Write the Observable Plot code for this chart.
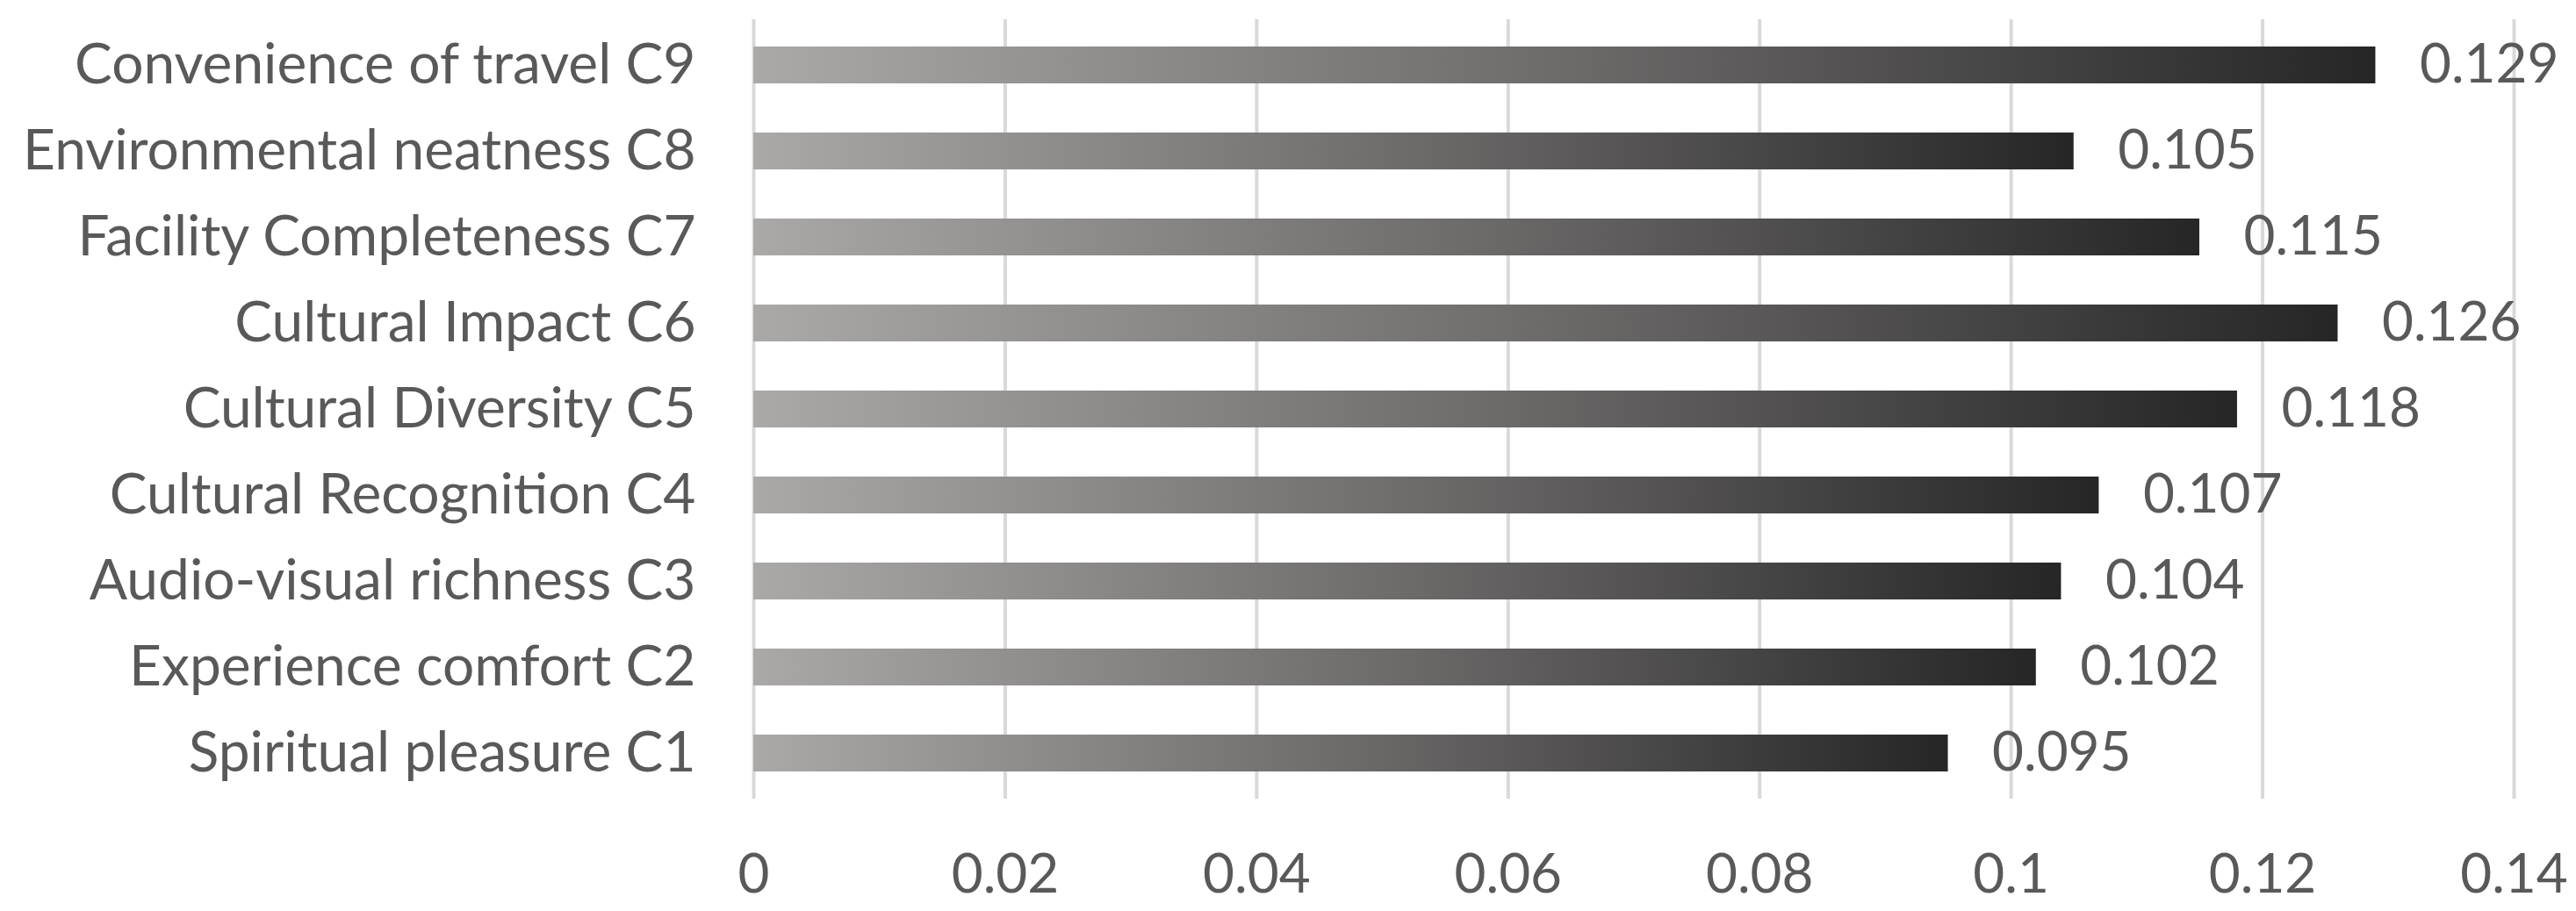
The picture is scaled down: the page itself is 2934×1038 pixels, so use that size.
<!DOCTYPE html>
<html>
<head>
<meta charset="utf-8">
<script src="https://cdn.jsdelivr.net/npm/d3@7"></script>
<script src="https://cdn.jsdelivr.net/npm/@observablehq/plot@0.6"></script>
<style>
  html, body { margin: 0; padding: 0; background: #ffffff; }
</style>
</head>
<body>
<div id="chart"></div>
<script>
// Categories, top to bottom as shown
const categories = [
  "Convenience of travel C9",
  "Environmental neatness C8",
  "Facility Completeness C7",
  "Cultural Impact C6",
  "Cultural Diversity C5",
  "Cultural Recognition C4",
  "Audio-visual richness C3",
  "Experience comfort C2",
  "Spiritual pleasure C1"
];
const values = [0.129, 0.105, 0.115, 0.126, 0.118, 0.107, 0.104, 0.102, 0.095];
const xTicks = [0, 0.02, 0.04, 0.06, 0.08, 0.1, 0.12, 0.14];
const xTickLabels = ["0", "0.02", "0.04", "0.06", "0.08", "0.1", "0.12", "0.14"];

const data = categories.map((name, i) => ({name, value: values[i]}));
const textColor = "#595959";

const chart = Plot.plot({
  width: 2934,
  height: 1038,
  marginLeft: 858,
  marginRight: 71,
  marginTop: 22,
  marginBottom: 128,
  style: {fontFamily: "Lato, 'Open Sans', sans-serif", fontSize: "62px", color: textColor, background: "#ffffff"},
  x: {domain: [0, 0.14]},
  y: {domain: categories, paddingInner: 0.575, paddingOuter: 0.2875},
  marks: [
    Plot.gridX(xTicks, {stroke: "#d9d9d9", strokeWidth: 4, strokeOpacity: 1}),
    Plot.barX(data, {x: "value", y: "name", fill: "url(#barGrad)"}),
    Plot.text(data, {
      x: "value", y: "name",
      text: d => d.value.toFixed(3),
      textAnchor: "start", dx: 50,
      fill: textColor, fontSize: 62
    }),
    Plot.axisX(xTicks, {
      tickSize: 0, tickPadding: 62, fontSize: 62, fill: textColor,
      tickFormat: (d, i) => xTickLabels[xTicks.indexOf(d)], label: null
    }),
    Plot.axisY({tickSize: 0, tickPadding: 66, fontSize: 64, fill: textColor, label: null})
  ]
});

// Horizontal gradient per bar (light left, dark right)
const ns = "http://www.w3.org/2000/svg";
const defs = document.createElementNS(ns, "defs");
const grad = document.createElementNS(ns, "linearGradient");
grad.setAttribute("id", "barGrad");
grad.setAttribute("x1", "0"); grad.setAttribute("x2", "1");
grad.setAttribute("y1", "0"); grad.setAttribute("y2", "0");
[["0%", "#aba8a8"], ["50%", "#6d6a6a"], ["100%", "#262626"]].forEach(([o, c]) => {
  const s = document.createElementNS(ns, "stop");
  s.setAttribute("offset", o);
  s.setAttribute("stop-color", c);
  grad.appendChild(s);
});
defs.appendChild(grad);
chart.insertBefore(defs, chart.firstChild);

document.getElementById("chart").appendChild(chart);
</script>
</body>
</html>
